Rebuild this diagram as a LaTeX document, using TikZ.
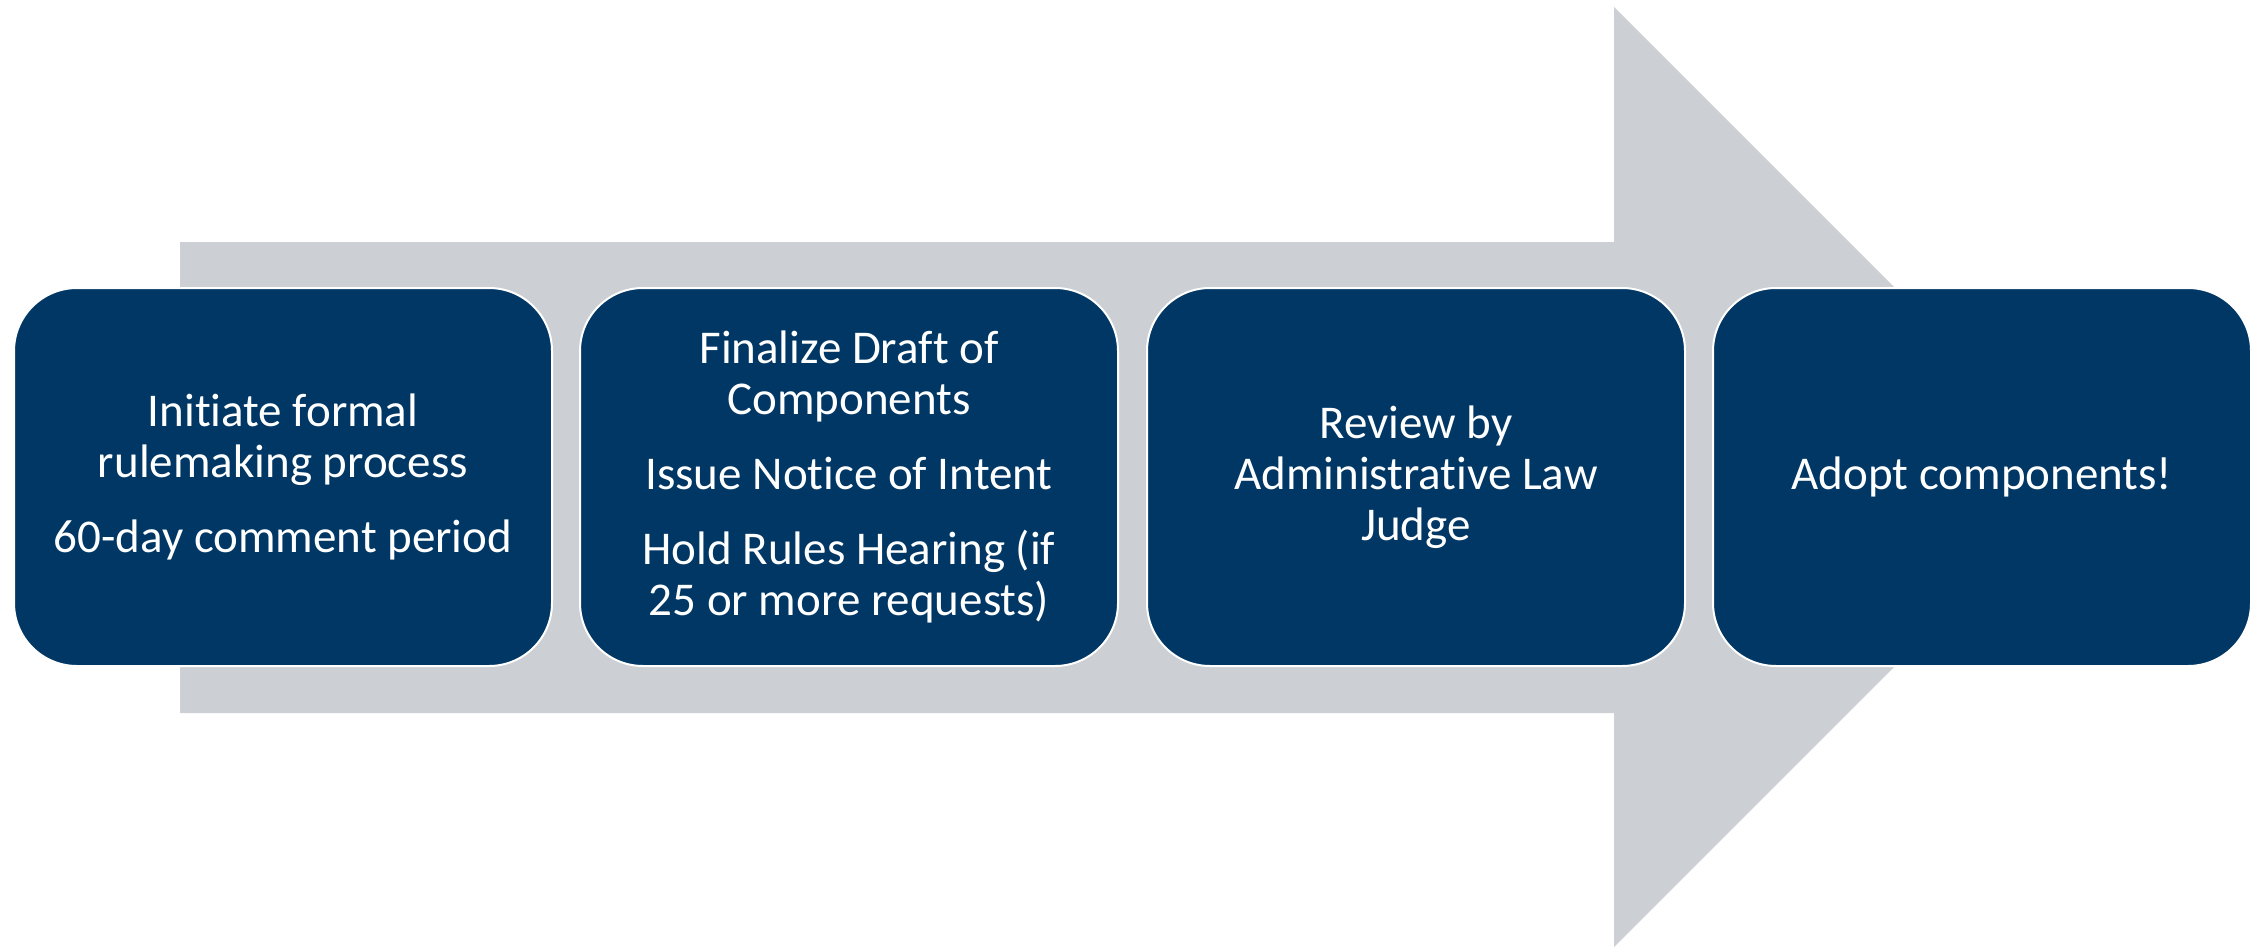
\documentclass[tikz,border=0pt]{standalone}
\usepackage{fontspec}
\setmainfont{Carlito}[Ligatures=NoCommon]
\definecolor{navy}{HTML}{003764}
\definecolor{arrowgray}{HTML}{CCCFD4}
\tikzset{
  stepbox/.style={rectangle, rounded corners=63pt, minimum width=538pt, minimum height=378pt,
    fill=navy, draw=white, line width=2pt, text=white, align=center, inner sep=0pt,
    font=\fontsize{47}{51}\selectfont}
}
\begin{document}
\begin{tikzpicture}[x=1pt,y=-1pt]
\useasboundingbox (0,0) rectangle (2259,947);
\fill[arrowgray] (180,242) -- (1614,242) -- (1614,7) -- (2084,477) -- (1614,947) -- (1614,713) -- (180,713) -- cycle;
\node[stepbox] (b1) at (283,477) {Initiate formal\\rulemaking process\\[24pt]60-day comment period};
\node[stepbox] (b2) at (849,477) {Finalize Draft of\\Components\\[24pt]Issue Notice of Intent\\[24pt]Hold Rules Hearing (if\\25 or more requests)};
\node[stepbox] (b3) at (1416,477) {Review by\\Administrative Law\\Judge};
\node[stepbox] (b4) at (1982,477) {Adopt components!};
\end{tikzpicture}
\end{document}
